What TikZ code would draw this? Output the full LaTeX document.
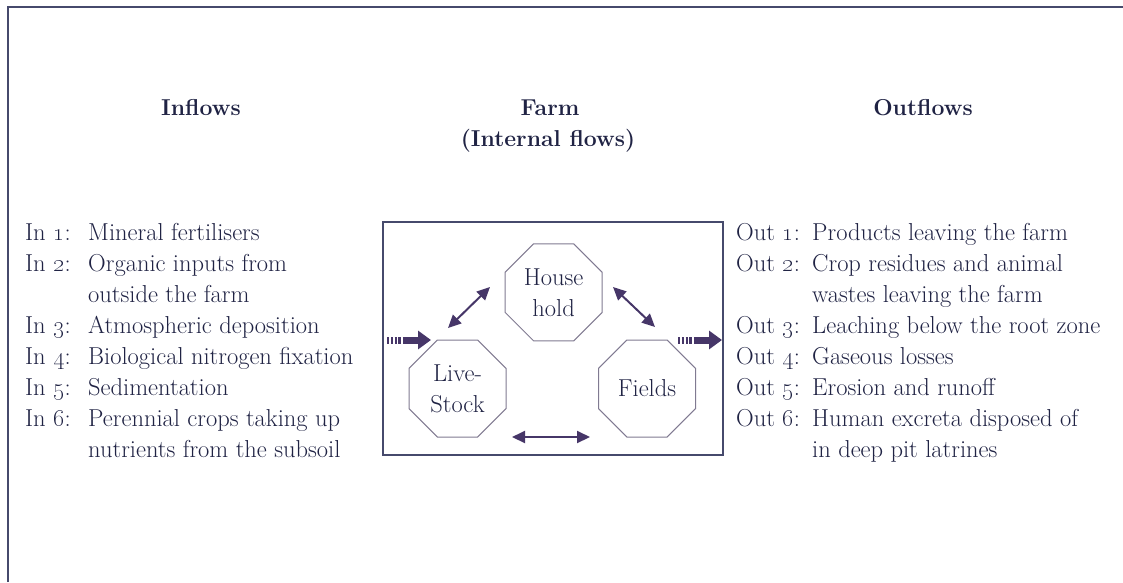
\documentclass[tikz,border=0pt]{standalone}
\usepackage{xcolor}
\definecolor{colorText}{RGB}{32,35,68}
\definecolor{colorArrow}{RGB}{70,54,104}
\definecolor{colorOcta}{RGB}{128,122,145}
\definecolor{colorFrame}{RGB}{70,74,108}
\usepackage{tikz}
\usetikzlibrary{arrows, arrows.meta, shapes.geometric, positioning}
\newcommand{\flowfont}{\fontsize{24.5}{31}\selectfont}
\tikzset{
  octa/.style={draw=colorOcta, line width=1pt, regular polygon, regular polygon sides=8,
    minimum size=105pt, inner sep=0pt, align=center, text=colorText},
  flowlabel/.style={anchor=base west, inner sep=0pt, text=colorText},
  heading/.style={anchor=base, inner sep=0pt, text=colorText, font=\fontsize{23}{31}\selectfont\bfseries},
  linkarrow/.style={colorArrow, line width=2pt, {Triangle[length=13pt,width=12pt]}-{Triangle[length=13pt,width=12pt]}},
  striped/.style={colorArrow, line width=7pt,
    dash pattern=on 2pt off 1.8pt on 2pt off 1.8pt on 2pt off 1.8pt on 3pt off 1.5pt on 60pt,
    -{Triangle[length=13pt,width=18pt]}}
}

\begin{document}
\begin{tikzpicture}[x=1pt, y=-1pt, font=\flowfont]
\useasboundingbox (0,0) rectangle (1123,582);
% outer frame
\draw[colorFrame, line width=1.4pt] (8,582) -- (8,7) -- (1123,7);

% headings
\node[heading] (hin) at (201,115) {Inflows};
\node[heading] (hfarm) at (550,115) {Farm};
\node[heading] (hint) at (548,146) {(Internal flows)};
\node[heading] (hout) at (923,115) {Outflows};

% farm box
\draw[colorFrame, line width=1.1pt] (383,222) rectangle (723,455);
\node[octa] (ls) at (457.5,388.5) {Live-\\Stock};
\node[octa, right of=ls, node distance=189.5pt] (fl) {Fields};
\node[octa, above right of=ls, node distance=136pt] (hh) {House\\hold};

\coordinate (lsA) at (448,328);
\coordinate (hhA) at (490,287);
\coordinate (hhB) at (613,287);
\coordinate (flB) at (655,327);
\coordinate (lsC) at (512,437);
\coordinate (flC) at (590,437);
\draw[linkarrow] (lsA) -- (hhA);
\draw[linkarrow] (hhB) -- (flB);
\draw[linkarrow] (lsC) -- (flC);

% in and out of the farm
\coordinate (inS) at (387,340);
\coordinate (inE) at (431,340);
\coordinate (outS) at (678,340);
\coordinate (outE) at (722,340);
\draw[striped] (inS) -- (inE);
\draw[striped] (outS) -- (outE);

% inflows
\node[flowlabel] (in1) at (25,240) {In \oldstylenums{1}:};
\node[flowlabel] (in1t) at (88,240) {Mineral fertilisers};
\node[flowlabel] (in2) at (25,271) {In \oldstylenums{2}:};
\node[flowlabel] (in2t) at (88,271) {Organic inputs from};
\node[flowlabel] (in2u) at (88,302) {outside the farm};
\node[flowlabel] (in3) at (25,333) {In \oldstylenums{3}:};
\node[flowlabel] (in3t) at (88,333) {Atmospheric deposition};
\node[flowlabel] (in4) at (25,364) {In \oldstylenums{4}:};
\node[flowlabel] (in4t) at (88,364) {Biological nitrogen fixation};
\node[flowlabel] (in5) at (25,395) {In \oldstylenums{5}:};
\node[flowlabel] (in5t) at (88,395) {Sedimentation};
\node[flowlabel] (in6) at (25,426) {In \oldstylenums{6}:};
\node[flowlabel] (in6t) at (88,426) {Perennial crops taking up};
\node[flowlabel] (in6u) at (88,457) {nutrients from the subsoil};

% outflows
\node[flowlabel] (out1) at (736,240) {Out \oldstylenums{1}:};
\node[flowlabel] (out1t) at (812,240) {Products leaving the farm};
\node[flowlabel] (out2) at (736,271) {Out \oldstylenums{2}:};
\node[flowlabel] (out2t) at (812,271) {Crop residues and animal};
\node[flowlabel] (out2u) at (812,302) {wastes leaving the farm};
\node[flowlabel] (out3) at (736,333) {Out \oldstylenums{3}:};
\node[flowlabel] (out3t) at (812,333) {Leaching below the root zone};
\node[flowlabel] (out4) at (736,364) {Out \oldstylenums{4}:};
\node[flowlabel] (out4t) at (812,364) {Gaseous losses};
\node[flowlabel] (out5) at (736,395) {Out \oldstylenums{5}:};
\node[flowlabel] (out5t) at (812,395) {Erosion and runoff};
\node[flowlabel] (out6) at (736,426) {Out \oldstylenums{6}:};
\node[flowlabel] (out6t) at (812,426) {Human excreta disposed of};
\node[flowlabel] (out6u) at (812,457) {in deep pit latrines};
\end{tikzpicture}
\end{document}
